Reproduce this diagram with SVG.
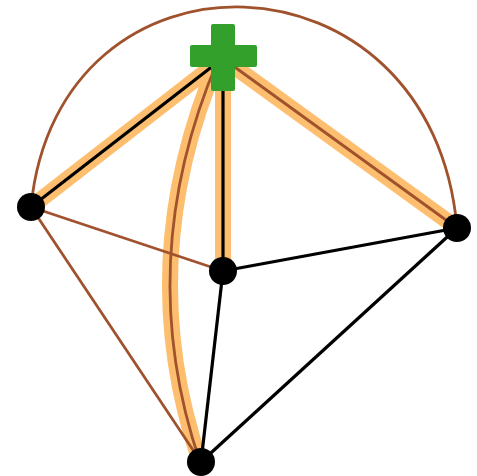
<svg xmlns="http://www.w3.org/2000/svg" width="477" height="476" viewBox="0 0 477 476">
<style>
.hl{fill:none;stroke:#fdbf6f;stroke-width:16;stroke-linecap:butt}
.br{fill:none;stroke:#a0522d;stroke-width:2.8}
.bk{fill:none;stroke:#000;stroke-width:3.2}
.node{fill:#000}
.plus{fill:#33a02c}
</style>
<rect width="477" height="476" fill="#fff"/>
<g id="connectors">
<path class="hl" d="M31,207 L218,62"/>
<path class="hl" d="M223,60 L223,271"/>
<path class="hl" d="M225,60 L457,228"/>
<path class="hl" d="M218,60 Q132,262 200,462"/>
<path class="br" d="M31,207 C58,-68 432,-58 457,228"/>
<path class="br" d="M31,207 L223,271"/>
<path class="br" d="M31,207 L201,462"/>
<path class="br" d="M225,60 L457,228"/>
<path class="br" d="M218,60 Q132,262 200,462"/>
<path class="bk" d="M31,207 L218,62"/>
<path class="bk" d="M223,60 L223,271"/>
<path class="bk" d="M223,271 L457,228"/>
<path class="bk" d="M223,271 L201,462"/>
<path class="bk" d="M457,228 L201,462"/>
</g>
<g id="plus">
<path class="plus" d="M213,24 H233 Q235,24 235,26 V45 H255 Q257,45 257,47 V65 Q257,67 255,67 H235 V89 Q235,91 233,91 H213 Q211,91 211,89 V67 H192 Q190,67 190,65 V47 Q190,45 192,45 H211 V26 Q211,24 213,24 Z"/>
</g>
<g id="n-left"><circle class="node" cx="31" cy="207" r="14"/></g>
<g id="n-center"><circle class="node" cx="223" cy="271" r="14"/></g>
<g id="n-right"><circle class="node" cx="457" cy="228" r="14"/></g>
<g id="n-bottom"><circle class="node" cx="201" cy="462" r="14"/></g>
</svg>
